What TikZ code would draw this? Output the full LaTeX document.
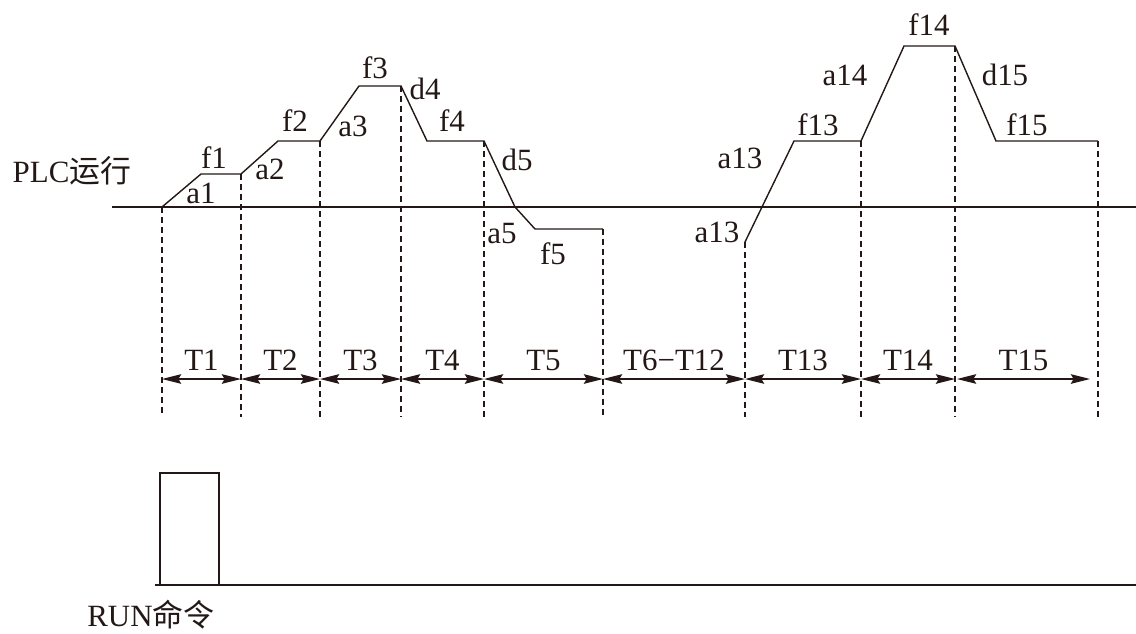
\documentclass[tikz,border=0pt]{standalone}
\usepackage{fontspec}
\setmainfont{Liberation Serif}
\newfontfamily\cjk{Noto Sans CJK SC}
\usetikzlibrary{arrows.meta}
\definecolor{ink}{HTML}{231815}

\begin{document}
\begin{tikzpicture}[
    x=0.025cm,y=-0.025cm,
    curve/.style={draw=ink,line width=1pt},
    guide/.style={draw=ink,line width=0.9pt,dash pattern=on 0.15cm off 0.1cm},
    span/.style={{Stealth[length=4.8mm,width=2.4mm,inset=0.7mm]}-{Stealth[length=4.8mm,width=2.4mm,inset=0.7mm]},draw=ink,fill=ink,line width=0.9pt},
    lbl/.style={anchor=base,inner sep=0pt,text=ink,font=\fontsize{22}{26}\selectfont},
]
\useasboundingbox (0,0) rectangle (1136,633);

% PLC run curve
\coordinate (s0) at (162,207);
\coordinate (s1) at (201,174);  \coordinate (e1) at (241,174);
\coordinate (s2) at (278,141);  \coordinate (e2) at (320,141);
\coordinate (s3) at (359,86);   \coordinate (e3) at (401,86);
\coordinate (s4) at (427,141);  \coordinate (e4) at (484,141);
\coordinate (k5) at (515,207);
\coordinate (s5) at (535,229);  \coordinate (e5) at (603,229);
\coordinate (b13) at (745,242);
\coordinate (s13) at (794,141); \coordinate (e13) at (861,141);
\coordinate (s14) at (904,46);  \coordinate (e14) at (955,46);
\coordinate (s15) at (996,141); \coordinate (e15) at (1098,141);

\coordinate (ax0) at (112,207); \coordinate (ax1) at (1136,207);
\coordinate (bot) at (0,417);
\coordinate (ar) at (0,379);

\draw[curve] (ax0) -- (ax1);
\draw[curve] (s0) -- (s1) -- (e1) -- (s2) -- (e2) -- (s3) -- (e3) -- (s4) -- (e4) -- (k5) -- (s5) -- (e5);
\draw[curve] (b13) -- (s13) -- (e13) -- (s14) -- (e14) -- (s15) -- (e15);

% guides
\foreach \p in {s0,e1,e2,e3,e4,e5,b13,e13,e14,e15}
    \draw[guide] (\p) -- (\p |- bot);

% curve labels
\node[lbl] (plc) at (72,182) {PLC{\cjk 运行}};
\node[lbl] (la1) at (201,203) {a1};
\node[lbl] (lf1) at (214,168) {f1};
\node[lbl] (la2) at (270,179) {a2};
\node[lbl] (lf2) at (295,131) {f2};
\node[lbl] (la3) at (353,136) {a3};
\node[lbl] (lf3) at (375,78) {f3};
\node[lbl] (ld4) at (425,99) {d4};
\node[lbl] (lf4) at (452,131) {f4};
\node[lbl] (ld5) at (517,170) {d5};
\node[lbl] (la5) at (502,243) {a5};
\node[lbl] (lf5) at (553,264) {f5};
\node[lbl] (la13) at (740,168) {a13};
\node[lbl] (lb13) at (717,242) {a13};
\node[lbl] (lf13) at (818,135) {f13};
\node[lbl] (la14) at (845,85) {a14};
\node[lbl] (lf14) at (929,35) {f14};
\node[lbl] (ld15) at (1005,85) {d15};
\node[lbl] (lf15) at (1027,135) {f15};

% time spans
\foreach \a/\b/\t [count=\i] in {s0/e1/T1,e1/e2/T2,e2/e3/T3,e3/e4/T4,e4/e5/T5,e5/b13/T6−T12,b13/e13/T13,e13/e14/T14}
    \draw[span] (\a |- ar) -- (\b |- ar) node[lbl,midway,yshift=0.225cm] (t\i) {\t};
\draw[span] ([xshift=0.05cm]e14 |- ar) -- ([xshift=-0.2cm]e15 |- ar) node[lbl,midway,yshift=0.225cm] (t9) {T15};

% RUN command
\coordinate (r0) at (155,585); \coordinate (r1) at (1136,585);
\coordinate (p0) at (160,585); \coordinate (p1) at (160,473);
\coordinate (p2) at (219,473); \coordinate (p3) at (219,585);
\draw[curve] (r0) -- (r1);
\draw[curve] (p0) -- (p1) -- (p2) -- (p3);
\node[lbl,anchor=base west] (run) at (87,626) {RUN{\cjk 命令}};
\end{tikzpicture}
\end{document}
